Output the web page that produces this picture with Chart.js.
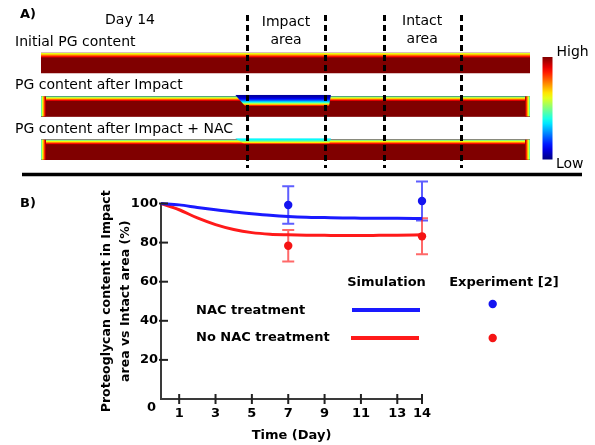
<!DOCTYPE html>
<html>
<head>
<meta charset="utf-8">
<script src="https://cdn.jsdelivr.net/npm/chart.js@4.4.0/dist/chart.umd.min.js"></script>
<style>
  html, body { margin: 0; padding: 0; background: #fff; }
  #wrap { position: relative; width: 595px; height: 445px; }
  #panelA { position: absolute; left: 0; top: 0; }
  #panelB { position: absolute; left: 0; top: 180px; }
</style>
</head>
<body>
<div id="wrap">
  <canvas id="panelA" width="595" height="180" style="width:595px;height:180px"></canvas>
  <canvas id="panelB" width="595" height="265" style="width:595px;height:265px"></canvas>
</div>
<script>
const FONT = '"DejaVu Sans", Verdana, sans-serif';
const TEXT_A = '14px ' + FONT;
const TEXT_B = 'bold 13px ' + FONT;

// A) PG map on day 14, positions in % of the cartilage length
const rowLabels = ['Initial PG content', 'PG content after Impact', 'PG content after Impact + NAC'];
const tissueSpan = [[0, 100], [0, 100], [0, 100]];
const zoneEdges = [42.1, 58.1, 70.1, 85.8];
const impactLesion = [39.7, 59.3];
const surfaceLevel = [0.55, 0.42, 0.42];
const lesionLevel = [null, 0.03, 0.36];

// B) PG in impact area vs intact area (%)
const simDays = [0, 1, 2, 3, 4, 5, 6, 7, 8, 9, 10, 11, 12, 13, 14];
const simNAC = [100, 99.3, 98.0, 96.8, 95.7, 94.8, 94.0, 93.4, 93.0, 92.8, 92.6, 92.5, 92.4, 92.4, 92.3];
const simNoNAC = [100, 96.8, 92.6, 89.2, 86.7, 85.1, 84.3, 84.0, 83.8, 83.7, 83.6, 83.6, 83.7, 83.8, 84.0];
const expDays = [7, 14];
const expNAC = [99.2, 101.3];
const expNACErr = [9.6, 10.0];
const expNoNAC = [78.4, 83.2];
const expNoNACErr = [8.1, 9.2];
const xTickDays = [1, 3, 5, 7, 9, 11, 13, 14];

Chart.defaults.font.family = FONT;
Chart.defaults.color = '#000';

// the original time axis gives the last day (13 -> 14) a wider step
class DayScale extends Chart.LinearScale {
  getPixelForValue(value) {
    if (value === null || value === undefined) return NaN;
    const knee = 13, stretch = 1.36;
    const warp = v => (v <= knee ? v : knee + (v - knee) * stretch);
    return this.getPixelForDecimal((warp(value) - warp(this.min)) / (warp(this.max) - warp(this.min)));
  }
}
DayScale.id = 'day';
DayScale.defaults = Chart.LinearScale.defaults;
Chart.register(DayScale);

// jet colour map, 0 = low (dark blue), 1 = high (dark red)
function jet(v) {
  const c = k => Math.round(255 * Math.max(0, Math.min(1, 1.5 - Math.abs(4 * v - k))));
  return 'rgb(' + c(3) + ',' + c(2) + ',' + c(1) + ')';
}

// gradient going from a surface level down to full PG content
function depthGradient(ctx, x0, y0, x1, y1, surface, power) {
  const g = ctx.createLinearGradient(x0, y0, x1, y1);
  for (let k = 0; k <= 12; k++) {
    const f = k / 12;
    g.addColorStop(f, jet(surface + (1 - surface) * Math.pow(f, power || 1)));
  }
  return g;
}

function text(ctx, str, x, y, font, align) {
  ctx.font = font;
  ctx.fillStyle = '#000';
  ctx.textAlign = align || 'left';
  ctx.textBaseline = 'middle';
  ctx.fillText(str, x, y);
}

const pgMapPlugin = {
  id: 'pgMap',
  afterDatasetsDraw(chart) {
    const { ctx, chartArea, scales: { x } } = chart;
    const bars = chart.getDatasetMeta(0).data;

    bars.forEach((bar, i) => {
      const p = bar.getProps(['x', 'y', 'base', 'height'], true);
      const l = Math.min(p.x, p.base), r = Math.max(p.x, p.base);
      const t = p.y - p.height / 2, b = p.y + p.height / 2;
      const edge = 5;
      ctx.save();
      ctx.fillStyle = jet(1);
      ctx.fillRect(l, t, r - l, b - t);
      ctx.fillStyle = depthGradient(ctx, 0, t, 0, t + edge, surfaceLevel[i]);
      ctx.fillRect(l, t, r - l, edge);
      if (i > 0) {
        ctx.fillStyle = depthGradient(ctx, l, 0, l + edge, 0, surfaceLevel[i]);
        ctx.fillRect(l, t, edge, b - t);
        ctx.fillStyle = depthGradient(ctx, r, 0, r - edge, 0, surfaceLevel[i]);
        ctx.fillRect(r - edge, t, edge, b - t);
      }
      if (lesionLevel[i] !== null) {
        const xa = x.getPixelForValue(impactLesion[0]);
        const xb = x.getPixelForValue(impactLesion[1]);
        const top = t - 1.5;
        const d = 12 - 16 * lesionLevel[i];
        ctx.beginPath();
        ctx.moveTo(xa, top);
        ctx.lineTo(xb, top);
        ctx.lineTo(xb - 2, top + d);
        ctx.lineTo(xa + 10, top + d);
        ctx.closePath();
        ctx.clip();
        ctx.fillStyle = depthGradient(ctx, 0, top, 0, top + d, lesionLevel[i], 2.2);
        ctx.fillRect(xa, top, xb - xa, d);
      }
      ctx.restore();

      text(ctx, rowLabels[i], 15, t - 10.5, TEXT_A);
    });

    // zone boundaries
    ctx.save();
    ctx.strokeStyle = '#000';
    ctx.lineWidth = 3;
    ctx.setLineDash([6, 4]);
    zoneEdges.forEach(v => {
      const px = Math.round(x.getPixelForValue(v)) + 0.5;
      ctx.beginPath();
      ctx.moveTo(px, 15);
      ctx.lineTo(px, 168);
      ctx.stroke();
    });
    ctx.restore();

    const impactMid = (x.getPixelForValue(zoneEdges[0]) + x.getPixelForValue(zoneEdges[1])) / 2;
    const intactMid = (x.getPixelForValue(zoneEdges[2]) + x.getPixelForValue(zoneEdges[3])) / 2;
    text(ctx, 'Impact', impactMid, 22, TEXT_A, 'center');
    text(ctx, 'area', impactMid, 40, TEXT_A, 'center');
    text(ctx, 'Intact', intactMid, 21, TEXT_A, 'center');
    text(ctx, 'area', intactMid, 39, TEXT_A, 'center');
    text(ctx, 'A)', 20, 15, 'bold 13px ' + FONT);
    text(ctx, 'Day 14', 130, 20, TEXT_A, 'center');

    // colour bar
    const cx = chartArea.right + 12.5;
    const cb = ctx.createLinearGradient(0, 57, 0, 159.5);
    for (let k = 0; k <= 20; k++) cb.addColorStop(k / 20, jet(1 - k / 20));
    ctx.fillStyle = cb;
    ctx.fillRect(cx, 57, 10, 102.5);
    text(ctx, 'High', cx + 14, 52, TEXT_A);
    text(ctx, 'Low', cx + 13.5, 164, TEXT_A);

    // separator between panels
    ctx.save();
    ctx.strokeStyle = '#000';
    ctx.lineWidth = 3.5;
    ctx.beginPath();
    ctx.moveTo(22, 174.5);
    ctx.lineTo(582, 174.5);
    ctx.stroke();
    ctx.restore();
  }
};

new Chart(document.getElementById('panelA'), {
  type: 'bar',
  data: {
    labels: rowLabels,
    datasets: [{
      data: tissueSpan,
      backgroundColor: '#800000',
      borderWidth: 0,
      barThickness: 20
    }]
  },
  options: {
    indexAxis: 'y',
    responsive: false,
    animation: false,
    devicePixelRatio: 1,
    layout: { padding: { left: 41, right: 65, top: 41.3, bottom: 8.6 } },
    plugins: { legend: { display: false }, tooltip: { enabled: false } },
    scales: {
      x: { type: 'linear', min: 0, max: 100, display: false },
      y: { display: false }
    }
  },
  plugins: [pgMapPlugin]
});

const errorBarPlugin = {
  id: 'errorBars',
  beforeDatasetsDraw(chart) {
    const { ctx, scales: { x, y } } = chart;
    const series = [
      { mean: expNAC, err: expNACErr, color: 'rgba(25, 25, 255, 0.7)' },
      { mean: expNoNAC, err: expNoNACErr, color: 'rgba(255, 25, 25, 0.65)' }
    ];
    ctx.save();
    ctx.lineWidth = 2;
    series.forEach(s => {
      ctx.strokeStyle = s.color;
      expDays.forEach((d, i) => {
        const px = x.getPixelForValue(d);
        const top = y.getPixelForValue(s.mean[i] + s.err[i]);
        const bot = y.getPixelForValue(s.mean[i] - s.err[i]);
        ctx.beginPath();
        ctx.moveTo(px, top);
        ctx.lineTo(px, bot);
        ctx.moveTo(px - 6, top);
        ctx.lineTo(px + 6, top);
        ctx.moveTo(px - 6, bot);
        ctx.lineTo(px + 6, bot);
        ctx.stroke();
      });
    });
    ctx.restore();
  }
};

const axisDecorPlugin = {
  id: 'axisDecor',
  afterDraw(chart) {
    const { ctx, chartArea, scales: { x, y } } = chart;
    ctx.save();
    ctx.strokeStyle = '#222';
    ctx.lineWidth = 2;
    y.ticks.forEach(t => {
      if (t.value === 0) return;
      const py = y.getPixelForValue(t.value);
      ctx.beginPath();
      ctx.moveTo(chartArea.left - 2, py);
      ctx.lineTo(chartArea.left + 7, py);
      ctx.stroke();
    });
    xTickDays.forEach(d => {
      const px = x.getPixelForValue(d);
      ctx.beginPath();
      ctx.moveTo(px, chartArea.bottom - 5);
      ctx.lineTo(px, chartArea.bottom + 5);
      ctx.stroke();
    });
    ctx.restore();

    text(ctx, '0', chartArea.left - 9.5, chartArea.bottom + 9, TEXT_B, 'center');
    text(ctx, 'B)', 20, 24, TEXT_B);

    // legend
    text(ctx, 'Simulation', 386.5, 103, TEXT_B, 'center');
    text(ctx, 'Experiment [2]', 504, 103, TEXT_B, 'center');
    text(ctx, 'NAC treatment', 196, 131, TEXT_B);
    text(ctx, 'No NAC treatment', 196, 158, TEXT_B);
    ctx.save();
    ctx.lineWidth = 4;
    ctx.strokeStyle = '#1a1aff';
    ctx.beginPath();
    ctx.moveTo(352, 130);
    ctx.lineTo(420, 130);
    ctx.stroke();
    ctx.strokeStyle = '#ff1a1a';
    ctx.beginPath();
    ctx.moveTo(351, 158);
    ctx.lineTo(419, 158);
    ctx.stroke();
    ctx.fillStyle = '#1414f0';
    ctx.beginPath();
    ctx.arc(492.7, 124, 4.2, 0, Math.PI * 2);
    ctx.fill();
    ctx.fillStyle = '#f51414';
    ctx.beginPath();
    ctx.arc(492.7, 158, 4.2, 0, Math.PI * 2);
    ctx.fill();
    ctx.restore();
  }
};

const toXY = (days, vals) => days.map((d, i) => ({ x: d, y: vals[i] }));

new Chart(document.getElementById('panelB'), {
  type: 'line',
  data: {
    datasets: [
      {
        label: 'NAC treatment, experiment',
        data: toXY(expDays, expNAC),
        showLine: false,
        pointRadius: 4.2,
        pointBorderWidth: 0,
        pointBackgroundColor: '#1414f0',
        clip: false
      },
      {
        label: 'No NAC treatment, experiment',
        data: toXY(expDays, expNoNAC),
        showLine: false,
        pointRadius: 4.2,
        pointBorderWidth: 0,
        pointBackgroundColor: '#f51414',
        clip: false
      },
      {
        label: 'NAC treatment, simulation',
        data: toXY(simDays, simNAC),
        borderColor: '#1a1aff',
        borderWidth: 3,
        pointRadius: 0,
        cubicInterpolationMode: 'monotone',
        clip: false
      },
      {
        label: 'No NAC treatment, simulation',
        data: toXY(simDays, simNoNAC),
        borderColor: '#ff1a1a',
        borderWidth: 3,
        pointRadius: 0,
        cubicInterpolationMode: 'monotone',
        clip: false
      }
    ]
  },
  options: {
    responsive: false,
    animation: false,
    devicePixelRatio: 1,
    layout: { padding: { left: 95, top: 23.5, right: 173, bottom: 0 } },
    plugins: { legend: { display: false }, tooltip: { enabled: false } },
    scales: {
      x: {
        type: 'day',
        min: 0,
        max: 14,
        afterBuildTicks: s => { s.ticks = xTickDays.map(v => ({ value: v })); },
        afterFit: s => { s.height = 46; },
        grid: { drawOnChartArea: false, drawTicks: false },
        border: { color: '#3a3a3a', width: 2 },
        ticks: { padding: 7, autoSkip: false, maxRotation: 0, font: { size: 13, weight: 'bold' } },
        title: { display: true, text: 'Time (Day)', font: { size: 13, weight: 'bold' }, padding: { top: 0, bottom: 1.5 } }
      },
      y: {
        min: 0,
        max: 100,
        afterFit: s => { s.width = 66; },
        grid: { drawOnChartArea: false, drawTicks: false },
        border: { color: '#3a3a3a', width: 2 },
        ticks: { stepSize: 20, padding: 3, font: { size: 13, weight: 'bold' }, callback: v => (v === 0 ? '' : v) },
        title: {
          display: true,
          text: ['Proteoglycan content in Impact', 'area vs Intact area (%)'],
          font: { size: 12.5, weight: 'bold', lineHeight: 1.5 },
          padding: { top: 2.5, bottom: 0 }
        }
      }
    }
  },
  plugins: [errorBarPlugin, axisDecorPlugin]
});
</script>
</body>
</html>
